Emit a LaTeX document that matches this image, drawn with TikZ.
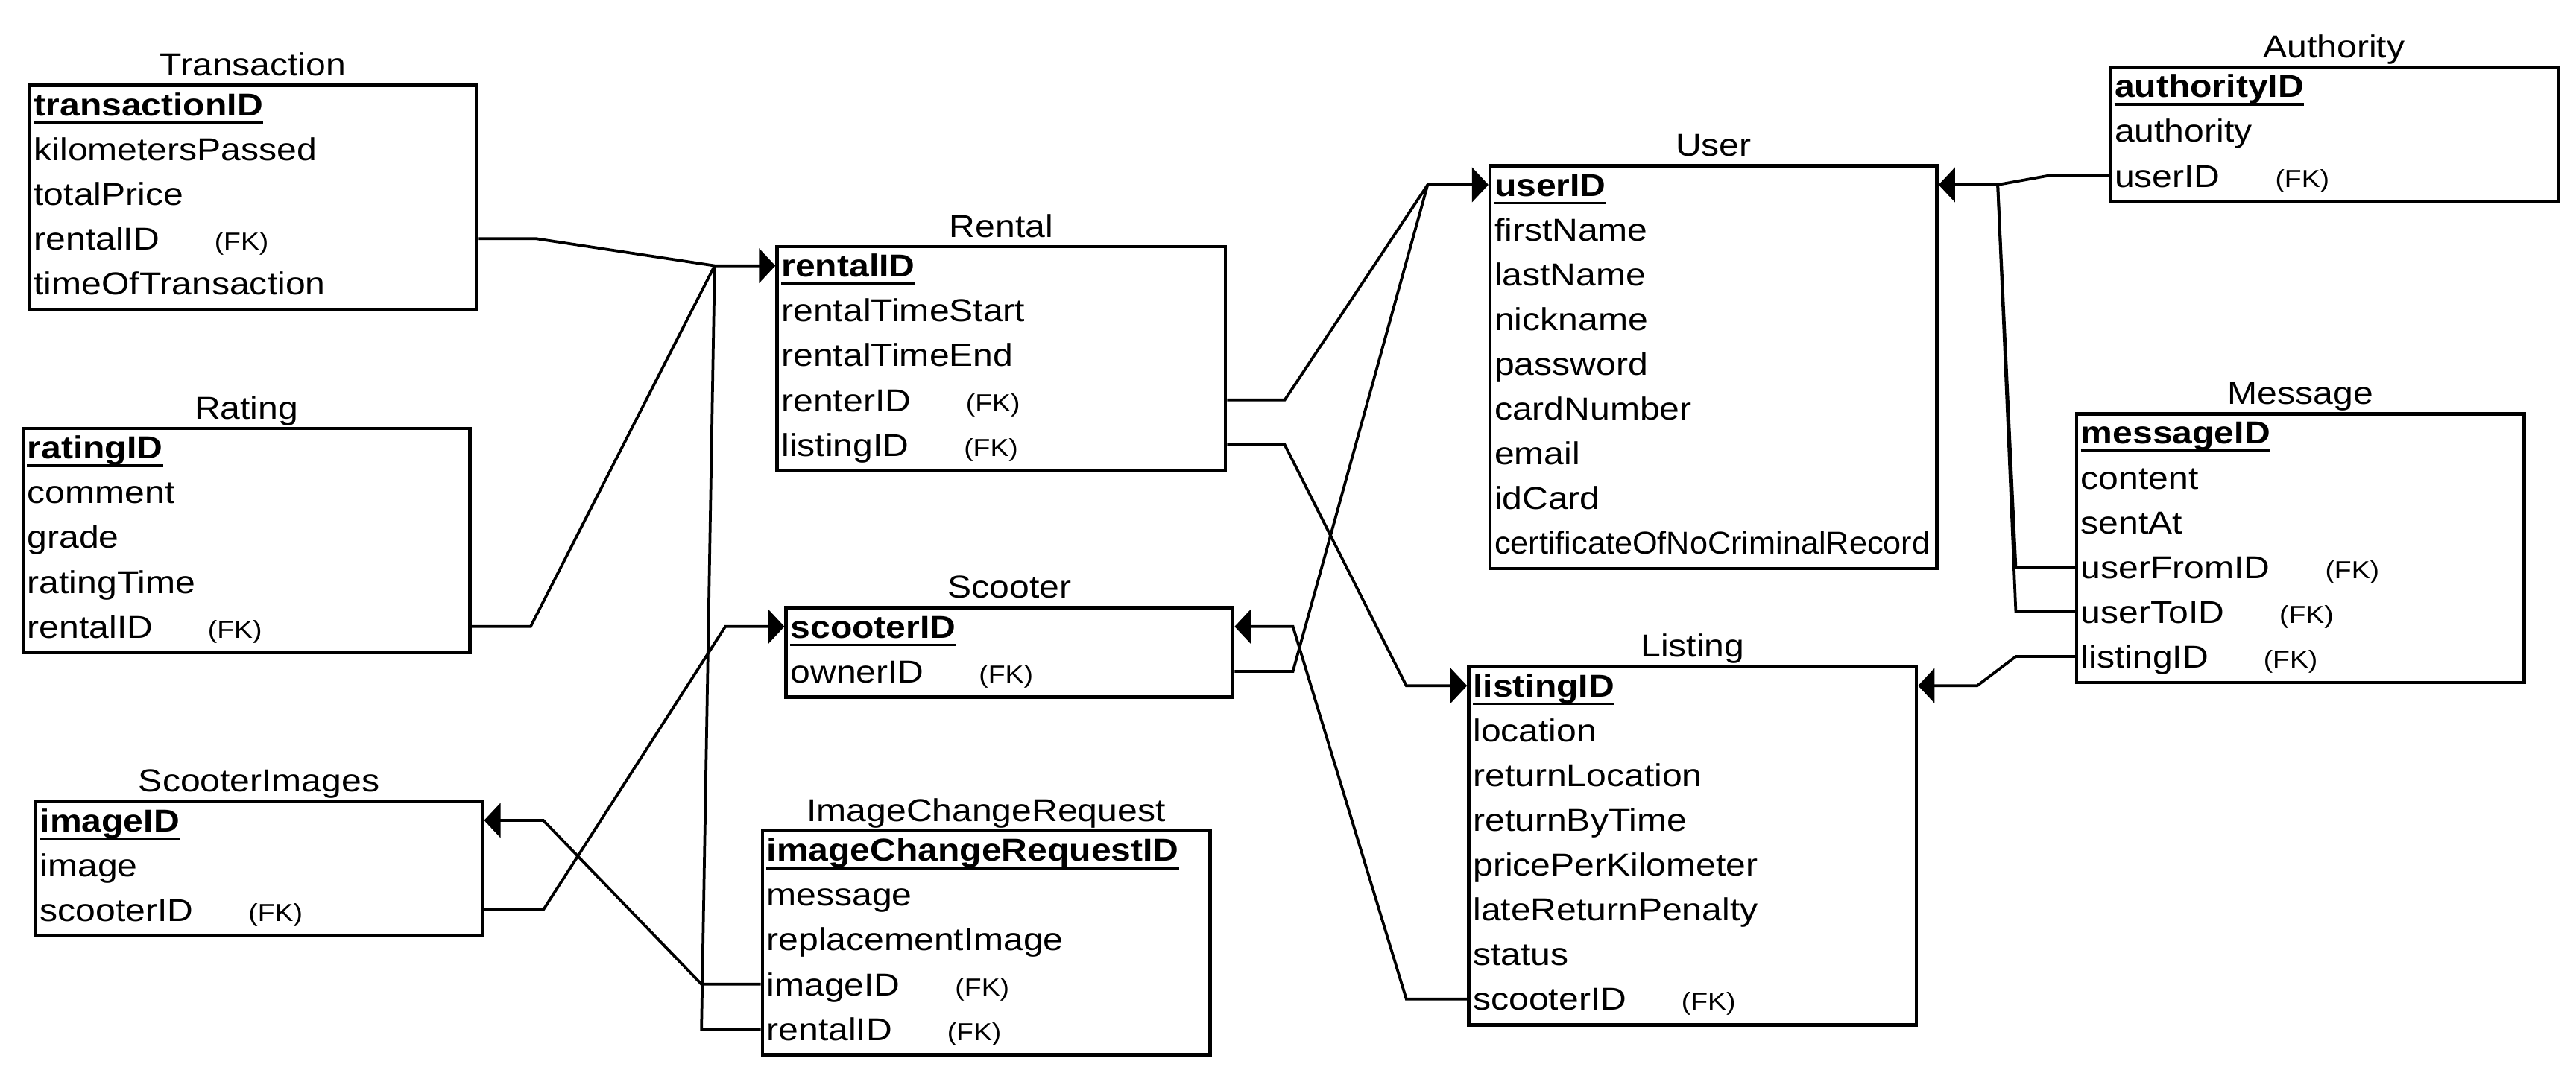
\documentclass[tikz,border=0pt]{standalone}
\usepackage{fontspec}
\usepackage{graphicx}
\setmainfont{Liberation Sans}[FakeStretch=1.13]
\usetikzlibrary{arrows.meta,calc}
\newcommand{\rowfont}{\fontsize{19.3pt}{22pt}\selectfont}
\newcommand{\fk}{\hspace{33.5pt}{\fontsize{15pt}{17pt}\selectfont (FK)}}
\tikzset{
  ebox/.style={draw, line width=2pt, anchor=north west, inner sep=0pt},
  ttl/.style={anchor=base, inner sep=0pt, font=\rowfont},
  erow/.style={anchor=west, inner sep=0pt, text height=13.8pt, text depth=0pt, font=\rowfont},
  pkrow/.style={erow, font=\rowfont\bfseries},
  uline/.style={line width=1.6pt},
  conn/.style={line width=1.7pt},
  arr/.style={-{Triangle[length=10pt,width=21pt]}}
}
% name, x, y, width, nrows, title, pk, other rows
\newcommand{\entity}[8]{%
  \node[ebox, minimum width=#4pt, minimum height={#5*27.25pt}] (#1) at (#2,#3) {};
  \node[ttl] (#1-title) at ([yshift=5pt]#1.north) {#6};
  \node[pkrow] (#1-0) at ([xshift=3.5pt,yshift=-12.5pt]#1.north west) {#7};
  \draw[uline] ([yshift=-4pt]#1-0.south west) -- ([yshift=-4pt]#1-0.south east);
  \foreach \t [count=\i] in {#8} {
    \node[erow] (#1-\i) at ([xshift=3.5pt,yshift={-12.5pt-27.25pt*\i}]#1.north west) {\t};
  }
}
\begin{document}
\begin{tikzpicture}[x=1pt,y=-1pt]
\useasboundingbox (0,0) rectangle (1568,653.33);
\fill[white] (0,0) rectangle (1568,653.33);

\entity{transaction}{17}{51}{272}{5}{Transaction}{transactionID}{kilometersPassed,totalPrice,rentalID\fk,timeOfTransaction}
\entity{rating}{13}{260}{272}{5}{Rating}{ratingID}{comment,grade,ratingTime,rentalID\fk}
\entity{scimg}{20.7}{487}{272}{3}{ScooterImages}{imageID}{image,scooterID\fk}
\entity{rental}{472}{149.3}{273}{5}{Rental}{rentalID}{rentalTimeStart,rentalTimeEnd,renterID\fk,listingID\fk}
\entity{scooter}{477.5}{369}{272}{2}{Scooter}{scooterID}{ownerID\fk}
\entity{icr}{463}{505}{272.5}{5}{ImageChangeRequest}{imageChangeRequestID}{message,replacementImage,imageID\fk,rentalID\fk}
\entity{user}{906}{100}{272}{9}{User}{userID}{firstName,lastName,nickname,password,cardNumber,email,idCard,\scalebox{0.90}[1]{certificateOfNoCriminalRecord}}
\entity{listing}{893}{405}{272.5}{8}{Listing}{listingID}{location,returnLocation,returnByTime,pricePerKilometer,lateReturnPenalty,status,scooterID\fk}
\entity{authority}{1283.5}{40}{272.5}{3}{Authority}{authorityID}{authority,userID\fk}
\entity{message}{1263}{251}{272.5}{6}{Message}{messageID}{content,sentAt,userFromID\fk,userToID\fk,listingID\fk}

% junctions
\coordinate (jr) at ([xshift=-37pt]rental.west |- rental-0);
\coordinate (ju) at ([xshift=-37pt]user.west |- user-0);
\coordinate (ju2) at ([xshift=36pt]user.east |- user-0);

% Rental references
\draw[conn,arr] (transaction.east |- transaction-3) -- ++(35,0) -- (jr) -- (rental.west |- rental-0);
\draw[conn] (rating.east |- rating-4) -- ++(36,0) -- (jr);
\draw[conn] (icr.west |- icr-4) -- ++(-36,0) -- (jr);
% ScooterImages reference
\draw[conn,arr] (icr.west |- icr-3) -- ++(-36,0) -- ([xshift=36pt]scimg.east |- scimg-0) -- (scimg.east |- scimg-0);
% Scooter references
\draw[conn,arr] (scimg.east |- scimg-2) -- ++(36,0) -- ([xshift=-36pt]scooter.west |- scooter-0) -- (scooter.west |- scooter-0);
\draw[conn,arr] (listing.west |- listing-7) -- ++(-37,0) -- ([xshift=35.5pt]scooter.east |- scooter-0) -- (scooter.east |- scooter-0);
% User references (left)
\draw[conn,arr] (rental.east |- rental-3) -- ++(35,0) -- (ju) -- (user.west |- user-0);
\draw[conn] (scooter.east |- scooter-1) -- ++(35.5,0) -- (ju);
% Listing references
\draw[conn,arr] (rental.east |- rental-4) -- ++(35,0) -- ([xshift=-37pt]listing.west |- listing-0) -- (listing.west |- listing-0);
\draw[conn,arr] (message.west |- message-5) -- ++(-36,0) -- ([xshift=36pt]listing.east |- listing-0) -- (listing.east |- listing-0);
% User references (right)
\draw[conn,arr] (authority.west |- authority-2) -- ++(-37,0) -- (ju2) -- (user.east |- user-0);
\draw[conn] (message.west |- message-3) -- ++(-36,0) -- (ju2);
\draw[conn] (message.west |- message-4) -- ++(-36,0) -- (ju2);
\end{tikzpicture}
\end{document}
